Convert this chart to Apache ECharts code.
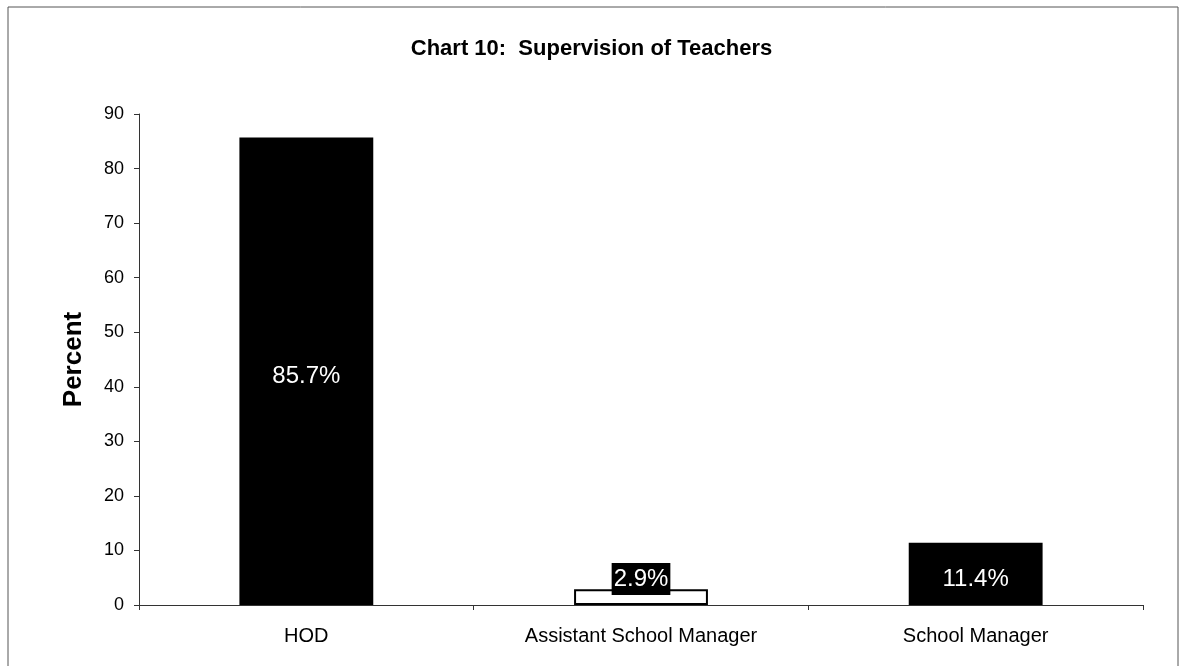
<!DOCTYPE html>
<html>
<head>
<meta charset="utf-8">
<title>Chart 10: Supervision of Teachers</title>
<script src="https://cdn.jsdelivr.net/npm/echarts@6/dist/echarts.min.js"></script>
<style>
    html, body { margin: 0; padding: 0; background: #fff; }
    #chart { width: 1183px; height: 666px; }
</style>
</head>
<body>
<div id="chart"></div>
<script>
    // data
    const categories = ['HOD', 'Assistant School Manager', 'School Manager'];
    const percents = [85.7, 2.9, 11.4];
    const yTicks = { min: 0, max: 90, interval: 10 };

    const FONT = 'Arial, "Liberation Sans", sans-serif';

    // white bar for the small one, black for the rest
    const barData = percents.map(function (v) {
        const small = v < 5;
        return {
            value: v,
            itemStyle: small
                ? { color: '#fff', borderColor: '#000', borderWidth: 2 }
                : { color: '#000' },
            label: { offset: small ? [0, -18] : [0, 5] }
        };
    });

    const option = {
        animation: false,
        backgroundColor: '#fff',
        graphic: [{
            type: 'rect',
            shape: { x: 8, y: 7, width: 1170, height: 680 },
            style: { fill: 'none', stroke: '#555', lineWidth: 1 },
            silent: true
        }],
        title: {
            text: 'Chart 10:  Supervision of Teachers',
            left: 'center',
            top: 33,
            textStyle: { fontFamily: FONT, fontSize: 22, fontWeight: 'bold', color: '#000' }
        },
        grid: { left: 139, right: 40, top: 114, bottom: 61, containLabel: false },
        xAxis: {
            type: 'category',
            data: categories,
            axisLine: { lineStyle: { color: '#333', width: 1 } },
            axisTick: { show: true, length: 5, interval: 0, lineStyle: { color: '#333' } },
            axisLabel: { interval: 0, margin: 21, fontFamily: FONT, fontSize: 20, color: '#000' }
        },
        yAxis: {
            type: 'value',
            min: yTicks.min,
            max: yTicks.max,
            interval: yTicks.interval,
            name: 'Percent',
            nameLocation: 'middle',
            nameGap: 52,
            nameTextStyle: { fontFamily: FONT, fontSize: 26, fontWeight: 'bold', color: '#000' },
            axisLine: { show: true, lineStyle: { color: '#333', width: 1 } },
            axisTick: { show: true, length: 5, lineStyle: { color: '#333' } },
            axisLabel: { margin: 15, fontFamily: FONT, fontSize: 18, color: '#000' },
            splitLine: { show: false }
        },
        series: [{
            type: 'bar',
            data: barData,
            barWidth: '40%',
            label: {
                show: true,
                position: 'inside',
                formatter: function (p) { return p.value.toFixed(1) + '%'; },
                fontFamily: FONT,
                fontSize: 24,
                color: '#fff',
                backgroundColor: '#000',
                padding: [4, 2]
            }
        }]
    };

    const chart = echarts.init(document.getElementById('chart'));
    chart.setOption(option);
</script>
</body>
</html>
